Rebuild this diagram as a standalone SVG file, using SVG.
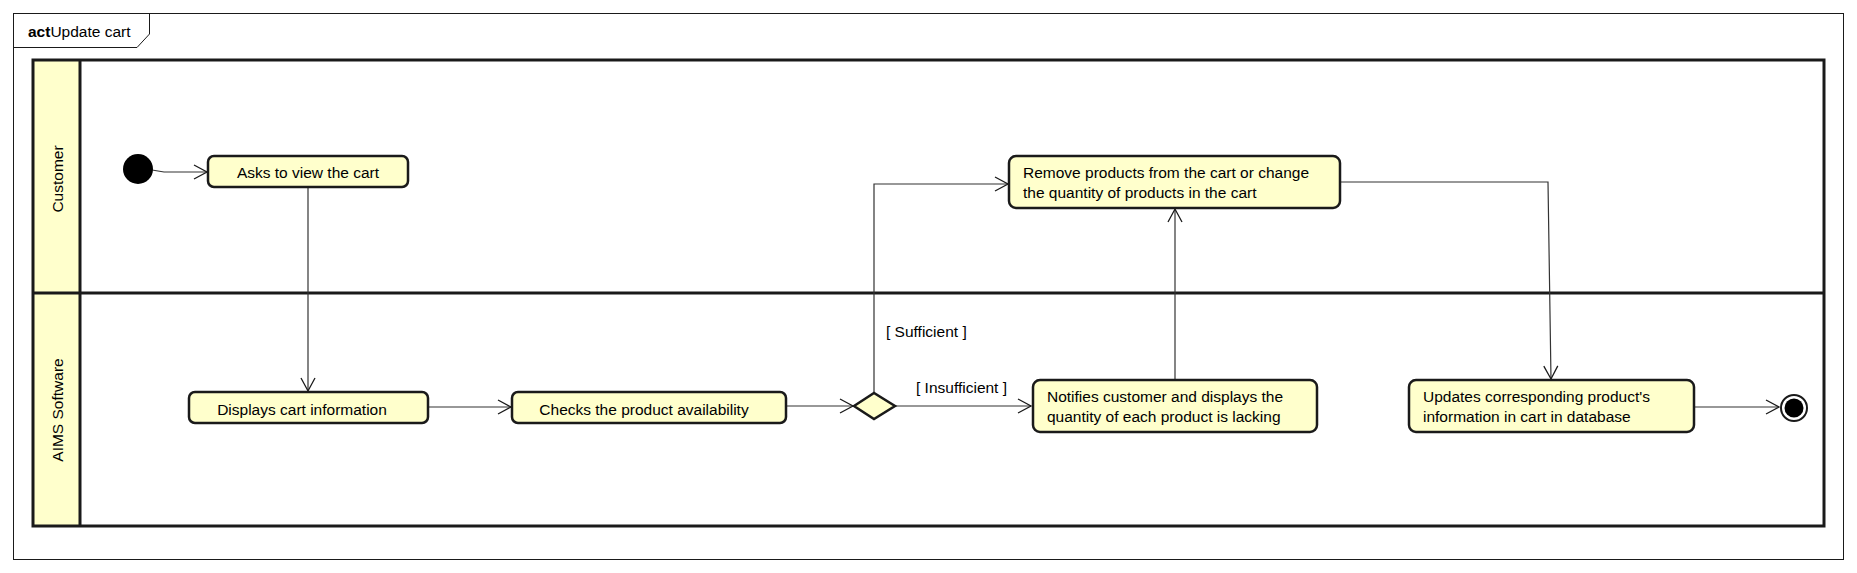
<svg xmlns="http://www.w3.org/2000/svg" width="1857" height="573" viewBox="0 0 1857 573">
<style>
text{font-family:"Liberation Sans",Arial,sans-serif;font-size:15.5px;fill:#000}
.node{fill:#FFFFCC;stroke:#1a1a1a;stroke-width:2.5}
.lane{fill:none;stroke:#1a1a1a;stroke-width:3}
.conn{fill:none;stroke:#333;stroke-width:1.2}
.mid{text-anchor:middle}
</style>
<defs>
<marker id="arr" markerWidth="16" markerHeight="16" refX="14" refY="8" orient="auto" markerUnits="userSpaceOnUse">
<path d="M1,1 L14,8 L1,15" fill="none" stroke="#1a1a1a" stroke-width="1.3"/>
</marker>
</defs>
<rect width="1857" height="573" fill="#fff"/>
<g id="frame">
<rect x="13.5" y="13.5" width="1830" height="546" fill="none" stroke="#1a1a1a" stroke-width="1"/>
<path d="M13.5,47.5 H137 L149.5,34 V13.5" fill="none" stroke="#1a1a1a" stroke-width="1"/>
<text x="28" y="37"><tspan font-weight="bold">act</tspan>Update cart</text>
</g>
<g id="swimlanes">
<rect x="33" y="60" width="47" height="466" fill="#FFFFCC"/>
<rect x="33" y="60" width="1791" height="466" class="lane"/>
<line x1="80" y1="60" x2="80" y2="526" class="lane"/>
<line x1="33" y1="293" x2="1824" y2="293" class="lane"/>
<text class="mid" transform="translate(63,179) rotate(-90)">Customer</text>
<text class="mid" transform="translate(63,410) rotate(-90)">AIMS Software</text>
</g>
<g id="connectors">
<path class="conn" d="M152,170 L164,172 L207,172" marker-end="url(#arr)"/>
<path class="conn" d="M308,187 V391" marker-end="url(#arr)"/>
<path class="conn" d="M428,407 H511" marker-end="url(#arr)"/>
<path class="conn" d="M786,406 H853" marker-end="url(#arr)"/>
<path class="conn" d="M874,393 V184 H1008" marker-end="url(#arr)"/>
<path class="conn" d="M895,406 H1031" marker-end="url(#arr)"/>
<path class="conn" d="M1175,380 V209" marker-end="url(#arr)"/>
<path class="conn" d="M1340,182 H1548 L1551,379" marker-end="url(#arr)"/>
<path class="conn" d="M1694,407 H1779" marker-end="url(#arr)"/>
<text x="886" y="337">[ Sufficient ]</text>
<text x="916" y="393">[ Insufficient ]</text>
</g>
<g id="initial">
<circle cx="138" cy="169" r="15" fill="#000"/>
</g>
<g id="asks">
<rect x="208" y="156" width="200" height="31" rx="6" class="node"/>
<text class="mid" x="308" y="178">Asks to view the cart</text>
</g>
<g id="displays">
<rect x="189" y="392" width="239" height="31" rx="6" class="node"/>
<text class="mid" x="302" y="415">Displays cart information</text>
</g>
<g id="checks">
<rect x="512" y="392" width="274" height="31" rx="6" class="node"/>
<text class="mid" x="644" y="415">Checks the product availability</text>
</g>
<g id="decision">
<polygon points="854,406 874,393 895,406 874,419" class="node"/>
</g>
<g id="remove">
<rect x="1009" y="156" width="331" height="52" rx="7" class="node"/>
<text x="1023" y="178">Remove products from the cart or change</text>
<text x="1023" y="198">the quantity of products in the cart</text>
</g>
<g id="notifies">
<rect x="1033" y="380" width="284" height="52" rx="7" class="node"/>
<text x="1047" y="402">Notifies customer and displays the</text>
<text x="1047" y="422">quantity of each product is lacking</text>
</g>
<g id="updates">
<rect x="1409" y="380" width="285" height="52" rx="7" class="node"/>
<text x="1423" y="402">Updates corresponding product's</text>
<text x="1423" y="422">information in cart in database</text>
</g>
<g id="final">
<circle cx="1794" cy="408" r="13" fill="#fff" stroke="#1a1a1a" stroke-width="2"/>
<circle cx="1794" cy="408" r="9.5" fill="#000"/>
</g>
</svg>
